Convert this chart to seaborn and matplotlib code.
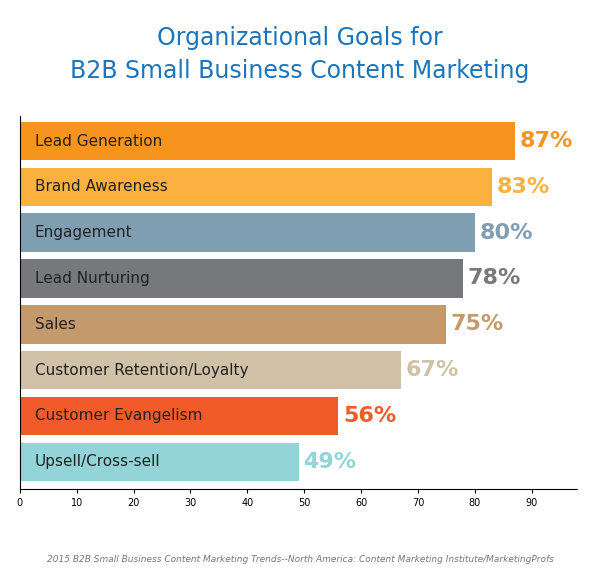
import matplotlib
matplotlib.use("Agg")
import matplotlib.pyplot as plt
import seaborn as sns
import pandas as pd

goals = ["Lead Generation", "Brand Awareness", "Engagement", "Lead Nurturing",
         "Sales", "Customer Retention/Loyalty", "Customer Evangelism", "Upsell/Cross-sell"]
values = [87, 83, 80, 78, 75, 67, 56, 49]
colors = ["#F7941D", "#FBB040", "#7F9EB2", "#77787B", "#C49A6C", "#D1C2A7", "#F15A29", "#93D4D8"]

df = pd.DataFrame({"goal": goals, "value": values})

fig = plt.figure(figsize=(6, 5.79), dpi=100)
ax = fig.add_axes([0.033, 0.155, 0.929, 0.645])
sns.barplot(data=df, x="value", y="goal", hue="goal", palette=colors,
            legend=False, width=0.84, saturation=1, ax=ax)

for i, (g, v) in enumerate(zip(goals, values)):
    ax.text(2.6, i, g, va="center", ha="left", fontsize=11, color="#222222")
    ax.text(v + 0.8, i, f"{v}%", va="center", ha="left", fontsize=16,
            fontweight="bold", color=colors[i])

ax.set_xlim(0, 98)
ax.set_ylim(7.6, -0.55)
ax.set_xticks(range(0, 91, 10))
ax.tick_params(axis="x", labelsize=7, length=3)
ax.set_yticks([])
ax.set_xlabel("")
ax.set_ylabel("")
for s in ["top", "right"]:
    ax.spines[s].set_visible(False)

fig.text(0.5, 0.935, "Organizational Goals for", ha="center", va="center",
         fontsize=17, color="#1B75BB")
fig.text(0.5, 0.878, "B2B Small Business Content Marketing", ha="center",
         va="center", fontsize=17, color="#1B75BB")
fig.text(0.5, 0.033, "2015 B2B Small Business Content Marketing Trends--North America: "
         "Content Marketing Institute/MarketingProfs", ha="center", va="center",
         fontsize=6.5, style="italic", color="#777777")

fig.savefig("out.png", dpi=100, facecolor="white")
